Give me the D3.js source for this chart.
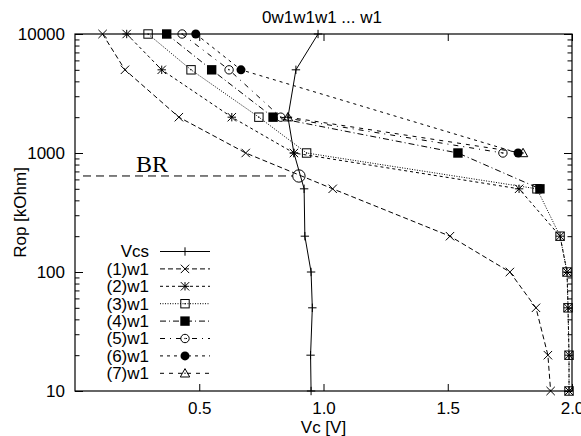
<!DOCTYPE html>
<html>
<head>
<meta charset="utf-8">
<script src="https://cdn.jsdelivr.net/npm/d3@7"></script>
<style>
  body { margin: 0; background: #fff; }
  text { font-family: "Liberation Sans", Arial, sans-serif; fill: #000; }
</style>
</head>
<body>
<script>
const d3 = window.d3;

// Rop levels (kOhm) at which every curve is sampled
const rops = [10000, 5000, 2000, 1000, 500, 200, 100, 50, 20, 10];
const vcs  = [0.978, 0.889, 0.857, 0.881, 0.922, 0.925, 0.950, 0.955, 0.948, 0.950];
const w1_1 = [0.111, 0.201, 0.418, 0.687, 1.037, 1.509, 1.750, 1.855, 1.903, 1.914];
const w1_2 = [0.208, 0.349, 0.631, 0.881, 1.787, 1.952, 1.980, 1.984, 1.988, 1.988];
const w1_3 = [0.294, 0.467, 0.740, 0.932, 1.859, 1.952, 1.980, 1.984, 1.988, 1.988];
const w1_4 = [0.369, 0.550, 0.797, 1.541, 1.871];
const rops4 = [10000, 5000, 2000, 1000, 500];
const w1_5 = [0.431, 0.620, 0.828, 1.722];
const rops5 = [10000, 5000, 2000, 1000];
const w1_6 = [0.486, 0.668, 1.783];
const rops6 = [10000, 5000, 1000];
const w1_7 = [0.857, 1.803];
const rops7 = [2000, 1000];
const brPoint = {vc: 0.901, rop: 641};

const names = ["Vcs", "(1)w1", "(2)w1", "(3)w1", "(4)w1", "(5)w1", "(6)w1", "(7)w1"];
const xTicks = [0.5, 1.0, 1.5, 2.0];
const yTicks = [10, 100, 1000, 10000];
const yMinor = [2,3,4,5,6,7,8,9].flatMap(m => [m * 10, m * 100, m * 1000]);

const W = 581, H = 436;
const margin = {top: 34, right: 9, bottom: 45, left: 75};
const width = W - margin.left - margin.right;
const height = H - margin.top - margin.bottom;

const svg = d3.select("body").append("svg")
    .attr("width", W)
    .attr("height", H);
const g = svg.append("g")
    .attr("transform", `translate(${margin.left},${margin.top})`);

const x = d3.scaleLinear().domain([0, 2]).range([0, width]);
const y = d3.scaleLog().domain([10, 10000]).range([height, 0]);

// axes with inward ticks, mirrored on top/right
function styleAxis(sel) {
    sel.select(".domain").remove();
    sel.selectAll("line").attr("stroke", "#000").attr("stroke-width", 1);
    sel.selectAll("text").style("font-size", "17px").attr("font-family", null);
}
g.append("g")
    .call(d3.axisLeft(y).tickValues(yTicks).tickFormat(d3.format("d"))
        .tickSizeInner(-8).tickSizeOuter(0).tickPadding(10))
    .call(styleAxis);
g.append("g")
    .call(d3.axisLeft(y).tickValues(yMinor).tickFormat("")
        .tickSizeInner(-4.5).tickSizeOuter(0))
    .call(styleAxis);
g.append("g").attr("transform", `translate(${width},0)`)
    .call(d3.axisLeft(y).tickValues(yTicks).tickFormat("").tickSizeInner(8).tickSizeOuter(0))
    .call(styleAxis);
g.append("g").attr("transform", `translate(${width},0)`)
    .call(d3.axisLeft(y).tickValues(yMinor).tickFormat("").tickSizeInner(4.5).tickSizeOuter(0))
    .call(styleAxis);
g.append("g").attr("transform", `translate(0,${height})`)
    .call(d3.axisBottom(x).tickValues(xTicks).tickFormat(d3.format(".1f"))
        .tickSizeInner(-7).tickSizeOuter(0).tickPadding(11))
    .call(styleAxis);
g.append("g")
    .call(d3.axisTop(x).tickValues(xTicks).tickFormat("").tickSizeInner(-7).tickSizeOuter(0))
    .call(styleAxis);

g.append("rect")
    .attr("width", width).attr("height", height)
    .attr("fill", "none").attr("stroke", "#000").attr("stroke-width", 1.2);

// markers
function marker(sel, type, cx, cy) {
    const m = sel.append("g").attr("transform", `translate(${cx},${cy})`);
    const s = 4.2;
    const line = d => m.append("path").attr("d", d).attr("stroke", "#000")
        .attr("stroke-width", 1).attr("fill", "none");
    const dot = () => m.append("circle").attr("r", 0.7).attr("fill", "#000");
    if (type === "plus") line(`M${-s},0H${s}M0,${-s}V${s}`);
    if (type === "cross") line(`M${-s},${-s}L${s},${s}M${-s},${s}L${s},${-s}`);
    if (type === "star") line(`M${-s},0H${s}M0,${-s}V${s}M${-s},${-s}L${s},${s}M${-s},${s}L${s},${-s}`);
    if (type === "box") {
        m.append("rect").attr("x", -s).attr("y", -s).attr("width", 2 * s).attr("height", 2 * s)
            .attr("fill", "none").attr("stroke", "#000");
        dot();
    }
    if (type === "boxf") m.append("rect").attr("x", -s - 0.5).attr("y", -s - 0.5)
        .attr("width", 2 * s + 1).attr("height", 2 * s + 1).attr("fill", "#000");
    if (type === "circle") {
        m.append("circle").attr("r", s).attr("fill", "none").attr("stroke", "#000");
        dot();
    }
    if (type === "circlef") m.append("circle").attr("r", s + 0.3).attr("fill", "#000");
    if (type === "tri") {
        line(`M0,${-s - 0.5}L${s + 0.5},${s - 0.5}L${-s - 0.5},${s - 0.5}Z`);
        dot();
    }
}

const series = [
    {vals: vcs,  rs: rops,  dash: null,      mk: "plus"},
    {vals: w1_1, rs: rops,  dash: "5,3",     mk: "cross"},
    {vals: w1_2, rs: rops,  dash: "3,3",     mk: "star"},
    {vals: w1_3, rs: rops,  dash: "1,1.5",   mk: "box"},
    {vals: w1_4, rs: rops4, dash: "6,3,1,3", mk: "boxf"},
    {vals: w1_5, rs: rops5, dash: "5,5,1,5", mk: "circle"},
    {vals: w1_6, rs: rops6, dash: "3,4",     mk: "circlef"},
    {vals: w1_7, rs: rops7, dash: "4,5",     mk: "tri"}
];

const lineGen = d3.line().x(d => x(d[0])).y(d => y(d[1]));
series.forEach(s => {
    const pts = s.vals.map((v, i) => [v, s.rs[i]]);
    g.append("path")
        .attr("d", lineGen(pts))
        .attr("fill", "none").attr("stroke", "#000").attr("stroke-width", 1)
        .attr("stroke-dasharray", s.dash);
    pts.forEach(p => marker(g, s.mk, x(p[0]), y(p[1])));
});

// BR marker and guide line
g.append("line")
    .attr("x1", 8).attr("x2", x(brPoint.vc) - 6)
    .attr("y1", y(brPoint.rop)).attr("y2", y(brPoint.rop))
    .attr("stroke", "#000").attr("stroke-dasharray", "8,5");
g.append("circle")
    .attr("cx", x(brPoint.vc)).attr("cy", y(brPoint.rop)).attr("r", 6.2)
    .attr("fill", "none").attr("stroke", "#000").attr("stroke-width", 1);
g.append("text")
    .attr("x", 61).attr("y", y(brPoint.rop) - 4)
    .style("font-family", "'Liberation Serif', 'DejaVu Serif', serif")
    .style("font-size", "24px")
    .text("BR");

// legend
const legend = svg.append("g");
names.forEach((n, i) => {
    const ly = 251.5 + i * 17.4;
    legend.append("text")
        .attr("x", 149).attr("y", ly).attr("dy", "0.35em")
        .attr("text-anchor", "end").style("font-size", "17px").text(n);
    legend.append("line")
        .attr("x1", 160).attr("x2", 210).attr("y1", ly).attr("y2", ly)
        .attr("stroke", "#000").attr("stroke-dasharray", series[i].dash);
    marker(legend, series[i].mk, 185, ly);
});

// titles
svg.append("text").attr("x", 322).attr("y", 23).attr("text-anchor", "middle")
    .style("font-size", "17px").text("0w1w1w1 ... w1");
svg.append("text").attr("x", margin.left + width / 2).attr("y", 432.5).attr("text-anchor", "middle")
    .style("font-size", "17px").text("Vc [V]");
svg.append("text")
    .attr("transform", `translate(25.5,${margin.top + height / 2}) rotate(-90)`)
    .attr("text-anchor", "middle").style("font-size", "17px").text("Rop [kOhm]");
</script>
</body>
</html>
